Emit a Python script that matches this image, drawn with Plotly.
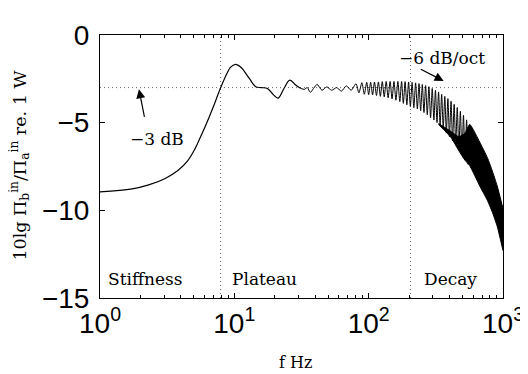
import plotly.graph_objects as go

# Smooth low-frequency part (Hz, dB)
f_smooth = [1.0, 1.735, 2.303, 3.059, 3.80, 4.49, 5.05, 5.576, 6.48, 6.93, 7.92, 8.75, 9.35,
            10.17, 11.24, 12.85, 14.43, 15.95, 17.64, 19.49, 21.19, 23.42, 25.88, 28.61, 31.10]
L_smooth = [-8.95, -8.78, -8.55, -8.18, -7.73, -7.18, -6.55, -5.85, -4.7, -4.15, -3.0, -2.24, -1.85,
            -1.67, -1.85, -2.45, -2.95, -3.0, -3.05, -3.4, -3.6, -3.05, -2.57, -2.85, -3.04]

# Oscillating plateau / decay part: successive extrema (Hz, dB)
f_osc = [31.10, 33.24, 34.95, 36.75, 41.29, 44.89, 48.80, 53.04, 57.67, 62.69, 68.13, 74.06,
         80.51, 84.6, 89.0, 92.8, 96.7, 100.0, 103.4, 106.9, 110.5, 114.3, 118.2, 122.2,
         126.3, 130.6, 135.0, 139.6, 144.4, 149.3, 154.3, 159.6, 165.0, 170.6, 175.8, 181.2,
         186.7, 192.4, 198.2, 204.3, 210.5, 216.9, 223.5, 230.4, 237.0, 243.8, 250.8, 258.0,
         265.4, 273.1, 280.9, 289.0, 297.3, 305.9, 314.1, 322.6, 331.4, 340.3, 349.5, 359.0,
         368.7, 378.7, 388.9, 399.4, 410.3, 421.4, 432.8, 444.5, 456.5, 468.9, 481.6, 494.6,
         508.0, 521.7, 535.9, 550.3, 565.2]
L_osc = [-3.04, -3.1, -3.0, -3.27, -2.82, -3.15, -2.96, -3.15, -3.0, -3.2, -2.9, -3.15,
         -2.78, -3.3, -2.72, -3.38, -2.7, -3.4, -2.7, -3.42, -2.68, -3.45, -2.68, -3.5,
         -2.66, -3.53, -2.65, -3.58, -2.65, -3.64, -2.65, -3.72, -2.65, -3.8, -2.65, -3.9,
         -2.66, -3.98, -2.68, -4.08, -2.7, -4.15, -2.73, -4.22, -2.77, -4.32, -2.82, -4.42,
         -2.88, -4.55, -2.95, -4.72, -3.05, -4.85, -3.15, -5.0, -3.25, -5.15, -3.38, -5.35,
         -3.5, -5.58, -3.63, -5.8, -3.78, -6.03, -3.95, -6.28, -4.14, -6.55, -4.35, -6.82,
         -4.58, -7.1, -4.84, -7.38, -5.1]

# Decay region: envelopes of the unresolved dense oscillation (Hz, dB)
f_band = [331.4, 410.3, 468.9, 521.7, 565.2, 670.0, 765.8, 832.4, 904.6, 1000.0]
L_upper = [-5.05, -5.5, -5.8, -5.6, -5.1, -6.1, -7.0, -7.75, -8.6, -9.9]
L_lower = [-5.1, -5.85, -6.6, -7.15, -7.45, -8.6, -9.44, -10.1, -10.9, -12.3]

f_regions = [7.9, 205.0]
level_3dB = -3

x_tickvals = [1, 10, 100, 1000]
x_ticktext = ["10<sup>0</sup>", "10<sup>1</sup>", "10<sup>2</sup>", "10<sup>3</sup>"]
y_tickvals = [0, -5, -10, -15]

serif = "DejaVu Serif"
sans = "Liberation Sans"

fig = go.Figure()

dot = dict(color="#666", width=1, dash="1px,3px")
fig.add_trace(go.Scatter(x=[1, 1000], y=[level_3dB, level_3dB], mode="lines",
                         line=dot, hoverinfo="skip"))
for fr in f_regions:
    fig.add_trace(go.Scatter(x=[fr, fr], y=[-15, 0], mode="lines", line=dot, hoverinfo="skip"))

fig.add_trace(go.Scatter(x=f_band, y=L_lower, mode="lines",
                         line=dict(color="black", width=1, shape="spline", smoothing=0.5)))
fig.add_trace(go.Scatter(x=f_band, y=L_upper, mode="lines", fill="tonexty",
                         fillcolor="black",
                         line=dict(color="black", width=1, shape="spline", smoothing=0.5)))
fig.add_trace(go.Scatter(x=f_smooth, y=L_smooth, mode="lines",
                         line=dict(color="black", width=1.2, shape="spline", smoothing=1)))
fig.add_trace(go.Scatter(x=f_osc, y=L_osc, mode="lines",
                         line=dict(color="black", width=1, shape="spline", smoothing=0.7)))

fig.update_layout(
    width=528, height=374,
    margin=dict(l=92, r=22, t=15, b=84),
    paper_bgcolor="white", plot_bgcolor="white",
    showlegend=False,
    xaxis=dict(type="log", range=[0, 3], tickvals=x_tickvals, ticktext=x_ticktext,
               showgrid=False, zeroline=False, showline=True, linecolor="black", linewidth=1,
               mirror="ticks", ticks="inside", ticklen=5, tickcolor="black",
               ticklabeloverflow="allow",
               minor=dict(ticks="inside", ticklen=3, tickcolor="black", dtick="D1", showgrid=False),
               tickfont=dict(family=sans, size=28, color="black")),
    yaxis=dict(range=[-15, 0], tickvals=y_tickvals, showgrid=False, zeroline=False,
               showline=True, linecolor="black", linewidth=1, mirror="ticks",
               ticks="inside", ticklen=5, tickcolor="black", ticklabeloverflow="allow",
               ticklabelstandoff=4,
               tickfont=dict(family=sans, size=28, color="black")),
)

ann_font = dict(family=serif, size=17, color="black")
fig.add_annotation(xref="paper", yref="paper", x=-0.20, y=0.505, textangle=-90,
                   xanchor="center", yanchor="middle",
                   text="10lg Π<sub>b</sub><sup>in</sup>/Π<sub>a</sub><sup>in</sup> re. 1 W",
                   showarrow=False, font=dict(family=serif, size=17.5, color="black"))
fig.add_annotation(xref="paper", yref="paper", x=0.4855, y=-0.2436, text="f Hz",
                   xanchor="center", yanchor="middle",
                   showarrow=False, font=dict(family=serif, size=16, color="black"))
fig.add_annotation(x=0.0, xref="x", y=-13.9, text="Stiffness", showarrow=False,
                   xanchor="left", xshift=6, font=ann_font)
fig.add_annotation(x=0.971, xref="x", y=-13.9, text="Plateau", showarrow=False,
                   xanchor="left", font=ann_font)
fig.add_annotation(x=2.399, xref="x", y=-13.9, text="Decay", showarrow=False,
                   xanchor="left", font=ann_font)
fig.add_annotation(x=0.4275, xref="x", y=-5.95, text="−3 dB", showarrow=False,
                   xanchor="center", font=ann_font)
fig.add_annotation(x=0.290, y=-3.1, ax=0.333, ay=-4.75, xref="x", yref="y", axref="x", ayref="y",
                   text="", showarrow=True, arrowhead=2, arrowsize=1.5, arrowwidth=1.2,
                   arrowcolor="black")
fig.add_annotation(x=2.543, xref="x", y=-1.31, text="−6 dB/oct", showarrow=False,
                   xanchor="center", font=ann_font)
fig.add_annotation(x=2.558, y=-2.62, ax=2.377, ay=-1.91, xref="x", yref="y", axref="x", ayref="y",
                   text="", showarrow=True, arrowhead=2, arrowsize=1.5, arrowwidth=1.2,
                   arrowcolor="black")

fig.write_html("out.html")
